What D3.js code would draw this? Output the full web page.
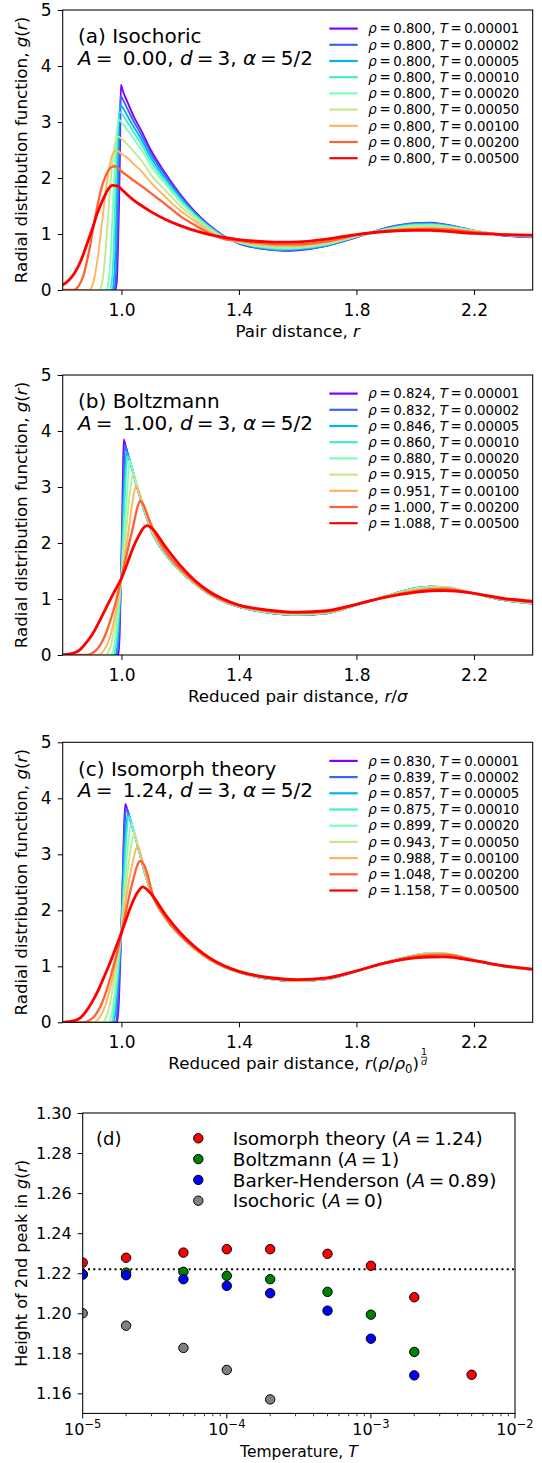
<!DOCTYPE html>
<html><head><meta charset="utf-8">
<script src="https://cdn.jsdelivr.net/npm/d3@7"></script>
<style>
body{margin:0;background:#fff}
svg{display:block}
text{font-family:"DejaVu Sans",sans-serif;fill:#000}
</style>
</head><body>
<svg id="c" width="542" height="1463"></svg>
<script>
// ---------------- DATA ----------------
const temps = ["0.00001","0.00002","0.00005","0.00010","0.00020","0.00050","0.00100","0.00200","0.00500"];
const colors = ["#8000ff","#4062fa","#00b4ec","#40ecd4","#80ffb4","#c0eb8d","#ffb462","#ff6232","#ff0000"];
const rhoA = ["0.800","0.800","0.800","0.800","0.800","0.800","0.800","0.800","0.800"];
const rhoB = ["0.824","0.832","0.846","0.860","0.880","0.915","0.951","1.000","1.088"];
const rhoC = ["0.830","0.839","0.857","0.875","0.899","0.943","0.988","1.048","1.158"];
const xTicks = [1.0,1.4,1.8,2.2];
const yTicks = [0,1,2,3,4,5];

// shared r grid of the tail (r >= 1.10)
const rTail = [1.10,1.15,1.20,1.25,1.30,1.35,1.40,1.45,1.50,1.55,1.60,1.70,1.80,1.90,2.00,2.05,2.10,2.20,2.30,2.40];

// (a) Isochoric: first peak region [r, g]
const headA = [
 [[0.80,0],[0.979,0],[0.984,0.15],[0.988,0.7],[0.992,1.6],[0.995,2.5],[0.998,3.66],[1.005,3.55],[1.02,3.36],[1.04,3.12],[1.07,2.82]],
 [[0.80,0],[0.975,0],[0.980,0.15],[0.985,0.75],[0.989,1.7],[0.993,2.7],[0.997,3.47],[1.005,3.40],[1.02,3.24],[1.04,3.03],[1.07,2.75]],
 [[0.80,0],[0.968,0],[0.974,0.15],[0.980,0.8],[0.985,1.8],[0.990,2.8],[0.995,3.31],[1.005,3.25],[1.02,3.11],[1.04,2.93],[1.07,2.67]],
 [[0.80,0],[0.960,0],[0.967,0.15],[0.974,0.8],[0.980,1.8],[0.987,2.8],[0.994,3.18],[1.005,3.12],[1.02,3.00],[1.04,2.83],[1.07,2.59]],
 [[0.80,0],[0.948,0],[0.956,0.15],[0.964,0.7],[0.972,1.6],[0.981,2.6],[0.991,3.04],[1.005,2.96],[1.02,2.86],[1.04,2.71],[1.07,2.49]],
 [[0.80,0],[0.925,0],[0.935,0.15],[0.946,0.7],[0.957,1.5],[0.969,2.3],[0.978,2.62],[0.988,2.74],[1.00,2.70],[1.02,2.60],[1.04,2.48],[1.07,2.30]],
 [[0.80,0],[0.890,0],[0.905,0.15],[0.920,0.6],[0.935,1.25],[0.950,1.9],[0.965,2.35],[0.978,2.48],[0.985,2.49],[1.00,2.43],[1.02,2.36],[1.04,2.26],[1.07,2.11]],
 [[0.80,0],[0.835,0],[0.855,0.08],[0.87,0.25],[0.89,0.70],[0.91,1.28],[0.93,1.78],[0.95,2.08],[0.965,2.19],[0.978,2.21],[0.99,2.17],[1.00,2.12],[1.02,2.04],[1.04,1.96],[1.07,1.85]],
 [[0.80,0.09],[0.82,0.17],[0.84,0.30],[0.86,0.50],[0.88,0.78],[0.90,1.08],[0.92,1.40],[0.94,1.65],[0.955,1.80],[0.968,1.87],[0.985,1.86],[1.00,1.80],[1.02,1.70],[1.04,1.61],[1.07,1.50]]
];
// (a) Isochoric: g values on rTail
const tailA = [
 [2.50,2.08,1.71,1.40,1.15,0.96,0.83,0.76,0.72,0.70,0.71,0.79,0.94,1.11,1.195,1.20,1.17,1.06,0.97,0.94],
 [2.44,2.04,1.68,1.38,1.14,0.955,0.835,0.765,0.727,0.71,0.72,0.795,0.945,1.10,1.19,1.194,1.165,1.06,0.975,0.945],
 [2.37,1.99,1.65,1.36,1.13,0.95,0.84,0.775,0.737,0.72,0.73,0.80,0.95,1.095,1.178,1.183,1.157,1.06,0.98,0.95],
 [2.30,1.94,1.62,1.34,1.12,0.945,0.845,0.785,0.748,0.732,0.74,0.81,0.955,1.09,1.167,1.172,1.15,1.06,0.98,0.955],
 [2.22,1.89,1.58,1.32,1.10,0.94,0.85,0.795,0.762,0.748,0.755,0.82,0.96,1.08,1.153,1.157,1.14,1.06,0.985,0.96],
 [2.06,1.78,1.50,1.28,1.07,0.93,0.86,0.81,0.785,0.772,0.775,0.835,0.965,1.07,1.128,1.13,1.12,1.05,0.99,0.965],
 [1.92,1.66,1.42,1.23,1.04,0.92,0.87,0.825,0.80,0.79,0.79,0.85,0.97,1.06,1.105,1.11,1.10,1.045,0.99,0.97],
 [1.73,1.53,1.32,1.16,1.01,0.91,0.88,0.845,0.825,0.815,0.815,0.87,0.98,1.055,1.085,1.09,1.08,1.035,0.99,0.975],
 [1.40,1.26,1.15,1.06,0.99,0.94,0.90,0.875,0.86,0.855,0.86,0.91,0.99,1.045,1.065,1.065,1.05,1.01,0.99,0.98]
];

// (b) Boltzmann
const headB = [
 [[0.80,0],[0.990,0],[0.994,0.4],[0.998,1.3],[1.002,2.3],[1.005,3.2],[1.008,3.85],[1.012,3.78],[1.02,3.62],[1.03,3.44],[1.04,3.26],[1.05,3.06],[1.06,2.88],[1.07,2.70],[1.08,2.54]],
 [[0.80,0],[0.984,0],[0.990,0.25],[0.995,0.85],[0.999,1.35],[1.004,2.3],[1.008,3.2],[1.012,3.75],[1.02,3.62],[1.03,3.44],[1.04,3.26],[1.05,3.06],[1.06,2.88],[1.07,2.70],[1.08,2.54]],
 [[0.80,0],[0.978,0],[0.986,0.2],[0.993,0.8],[0.998,1.3],[1.004,2.2],[1.010,3.1],[1.017,3.62],[1.025,3.52],[1.03,3.44],[1.04,3.26],[1.05,3.06],[1.06,2.88],[1.07,2.70],[1.08,2.54]],
 [[0.80,0],[0.972,0],[0.982,0.2],[0.990,0.65],[0.996,1.15],[1.00,1.45],[1.008,2.40],[1.015,3.20],[1.021,3.55],[1.03,3.44],[1.04,3.26],[1.05,3.06],[1.06,2.88],[1.07,2.70],[1.08,2.54]],
 [[0.80,0],[0.962,0],[0.975,0.15],[0.985,0.55],[0.995,1.10],[1.00,1.40],[1.01,2.20],[1.02,2.95],[1.028,3.47],[1.035,3.36],[1.04,3.27],[1.05,3.07],[1.06,2.89],[1.07,2.71],[1.08,2.55]],
 [[0.80,0],[0.945,0],[0.96,0.10],[0.975,0.45],[0.99,0.95],[1.00,1.35],[1.015,2.15],[1.03,2.95],[1.04,3.25],[1.05,3.08],[1.06,2.90],[1.07,2.72],[1.08,2.56]],
 [[0.80,0],[0.92,0],[0.94,0.08],[0.96,0.30],[0.98,0.75],[1.00,1.36],[1.02,2.05],[1.035,2.65],[1.045,2.95],[1.05,3.02],[1.06,2.92],[1.07,2.75],[1.08,2.58]],
 [[0.80,0],[0.88,0],[0.90,0.03],[0.92,0.12],[0.94,0.30],[0.96,0.58],[0.98,0.93],[1.00,1.38],[1.02,1.85],[1.04,2.30],[1.055,2.65],[1.064,2.75],[1.075,2.68],[1.09,2.48]],
 [[0.80,0.003],[0.82,0.015],[0.84,0.04],[0.86,0.10],[0.88,0.22],[0.90,0.36],[0.92,0.55],[0.94,0.76],[0.96,0.97],[0.98,1.17],[1.00,1.37],[1.02,1.64],[1.04,1.92],[1.06,2.14],[1.075,2.27],[1.087,2.31]]
];
const tailB = [
 [2.24,1.80,1.50,1.27,1.08,0.95,0.86,0.80,0.755,0.725,0.715,0.745,0.89,1.05,1.19,1.219,1.21,1.10,0.98,0.92],
 [2.24,1.80,1.50,1.27,1.08,0.95,0.86,0.80,0.756,0.726,0.716,0.746,0.89,1.05,1.192,1.220,1.212,1.10,0.98,0.92],
 [2.24,1.80,1.50,1.27,1.08,0.95,0.86,0.80,0.757,0.727,0.717,0.747,0.89,1.05,1.193,1.221,1.213,1.10,0.98,0.92],
 [2.24,1.80,1.50,1.27,1.08,0.95,0.862,0.802,0.759,0.729,0.72,0.75,0.89,1.05,1.19,1.219,1.213,1.10,0.982,0.922],
 [2.25,1.81,1.50,1.27,1.08,0.952,0.864,0.805,0.762,0.733,0.724,0.753,0.892,1.05,1.185,1.217,1.213,1.10,0.984,0.924],
 [2.26,1.82,1.51,1.275,1.085,0.955,0.868,0.81,0.768,0.74,0.731,0.758,0.894,1.048,1.175,1.208,1.211,1.10,0.988,0.928],
 [2.28,1.83,1.52,1.28,1.09,0.96,0.873,0.816,0.775,0.748,0.74,0.765,0.897,1.045,1.16,1.195,1.199,1.10,0.992,0.935],
 [2.34,1.85,1.54,1.30,1.10,0.97,0.88,0.826,0.786,0.76,0.752,0.776,0.90,1.04,1.14,1.172,1.181,1.10,1.00,0.945],
 [2.28,1.93,1.60,1.33,1.13,0.99,0.89,0.838,0.80,0.775,0.765,0.79,0.905,1.035,1.12,1.145,1.15,1.10,1.01,0.96]
];

// (c) Isomorph theory
const headC = [
 [[0.80,0],[0.985,0],[0.991,0.35],[0.996,1.1],[1.000,1.7],[1.005,2.7],[1.009,3.5],[1.013,3.90],[1.02,3.80],[1.03,3.62],[1.04,3.44],[1.05,3.26],[1.06,3.06],[1.07,2.86],[1.08,2.66]],
 [[0.80,0],[0.98,0],[0.987,0.3],[0.993,0.95],[0.998,1.45],[1.003,2.3],[1.009,3.3],[1.016,3.82],[1.02,3.79],[1.03,3.62],[1.04,3.44],[1.05,3.26],[1.06,3.06],[1.07,2.86],[1.08,2.66]],
 [[0.80,0],[0.972,0],[0.981,0.25],[0.989,0.8],[0.995,1.25],[1.00,1.62],[1.007,2.55],[1.014,3.35],[1.022,3.72],[1.03,3.62],[1.04,3.44],[1.05,3.26],[1.06,3.06],[1.07,2.86],[1.08,2.66]],
 [[0.80,0],[0.965,0],[0.975,0.2],[0.984,0.65],[0.992,1.15],[1.00,1.65],[1.008,2.45],[1.016,3.25],[1.026,3.68],[1.03,3.62],[1.04,3.44],[1.05,3.26],[1.06,3.06],[1.07,2.86],[1.08,2.66]],
 [[0.80,0],[0.955,0],[0.967,0.15],[0.978,0.55],[0.988,1.05],[0.996,1.45],[1.00,1.65],[1.01,2.35],[1.02,3.05],[1.034,3.55],[1.04,3.45],[1.05,3.27],[1.06,3.07],[1.07,2.87],[1.08,2.67]],
 [[0.80,0],[0.935,0],[0.95,0.12],[0.965,0.45],[0.98,0.95],[0.993,1.40],[1.00,1.65],[1.015,2.40],[1.03,3.05],[1.044,3.40],[1.05,3.28],[1.06,3.08],[1.07,2.88],[1.08,2.68]],
 [[0.80,0],[0.905,0],[0.925,0.08],[0.945,0.3],[0.965,0.68],[0.985,1.18],[1.00,1.62],[1.02,2.35],[1.04,2.90],[1.05,3.10],[1.056,3.15],[1.065,3.02],[1.08,2.70]],
 [[0.80,0],[0.87,0],[0.89,0.03],[0.91,0.12],[0.93,0.30],[0.95,0.58],[0.97,0.95],[0.99,1.35],[1.00,1.60],[1.02,2.10],[1.04,2.55],[1.055,2.82],[1.064,2.88],[1.075,2.83],[1.09,2.62]],
 [[0.80,0],[0.82,0.01],[0.84,0.03],[0.86,0.08],[0.88,0.20],[0.90,0.36],[0.92,0.56],[0.94,0.80],[0.96,1.05],[0.98,1.32],[1.00,1.60],[1.02,1.90],[1.04,2.17],[1.06,2.36],[1.072,2.42],[1.085,2.38]]
];
const tailC = [
 [2.33,1.86,1.55,1.31,1.12,0.985,0.89,0.82,0.775,0.745,0.735,0.77,0.91,1.07,1.195,1.225,1.22,1.11,1.00,0.94],
 [2.33,1.86,1.55,1.31,1.12,0.985,0.89,0.82,0.776,0.746,0.736,0.771,0.91,1.07,1.197,1.228,1.222,1.11,1.00,0.94],
 [2.33,1.86,1.55,1.31,1.12,0.985,0.89,0.82,0.777,0.747,0.737,0.772,0.91,1.07,1.198,1.230,1.224,1.11,1.00,0.94],
 [2.33,1.86,1.55,1.31,1.12,0.985,0.89,0.821,0.778,0.748,0.738,0.773,0.91,1.07,1.199,1.232,1.226,1.11,1.00,0.94],
 [2.33,1.86,1.55,1.31,1.12,0.986,0.891,0.822,0.779,0.75,0.74,0.775,0.911,1.07,1.198,1.232,1.227,1.11,1.00,0.94],
 [2.33,1.86,1.55,1.31,1.12,0.987,0.893,0.825,0.782,0.753,0.743,0.778,0.912,1.07,1.195,1.229,1.228,1.115,1.00,0.94],
 [2.34,1.86,1.55,1.31,1.12,0.99,0.896,0.829,0.786,0.757,0.747,0.782,0.914,1.068,1.19,1.222,1.224,1.115,1.005,0.942],
 [2.40,1.87,1.56,1.32,1.13,0.995,0.90,0.834,0.792,0.764,0.754,0.788,0.916,1.065,1.178,1.205,1.208,1.11,1.008,0.945],
 [2.30,1.92,1.60,1.35,1.15,1.01,0.91,0.845,0.80,0.773,0.763,0.795,0.92,1.06,1.15,1.166,1.169,1.10,1.01,0.95]
];

// (d) height of 2nd peak
const dTemps = [1e-5,2e-5,5e-5,1e-4,2e-4,5e-4,1e-3,2e-3,5e-3];
const peakIsomorph = [1.2253,1.2277,1.2303,1.2320,1.2320,1.2297,1.2237,1.2080,1.1693];
const peakBoltzmann = [1.2195,1.2203,1.2207,1.2187,1.2170,1.2107,1.1993,1.1807];
const peakBarker = [1.2193,1.2190,1.2170,1.2137,1.2100,1.2013,1.1873,1.1690];
const peakIsochoric = [1.2000,1.1938,1.1827,1.1717,1.1570];
const refLine = 1.222;
const dYTicks = [1.16,1.18,1.20,1.22,1.24,1.26,1.28,1.30];
const dXTicks = [1e-5,1e-4,1e-3,1e-2];
const dLegend = [
 {name:"Isomorph theory", A:"1.24", color:"#ff0000"},
 {name:"Boltzmann", A:"1", color:"#008000"},
 {name:"Barker-Henderson", A:"0.89", color:"#0000ff"},
 {name:"Isochoric", A:"0", color:"#808080"}
];

// ---------------- DRAW ----------------
const svg = d3.select("#c");
const X0 = 62.7, X1 = 532.7;
const TICKF = 17, LABF = 16.7, TITF = 20, LEGF = 13.3;
const EQ = "\u2009=\u2009";   // math-style spacing around "="

function addMath(sel, parts){
  parts.forEach(p=>{
    const t = sel.append("tspan").text(p[0]);
    if(p[1]) t.attr("font-style","italic");
    if(p[2]) Object.entries(p[2]).forEach(([k,v])=>t.attr(k,v));
  });
  return sel;
}

const panels = [
 {key:"a", top:10, bottom:290, head:headA, tail:tailA, rho:rhoA, name:"(a) Isochoric", Aval:" 0.00"},
 {key:"b", top:375, bottom:655, head:headB, tail:tailB, rho:rhoB, name:"(b) Boltzmann", Aval:" 1.00"},
 {key:"c", top:742.3, bottom:1022.3, head:headC, tail:tailC, rho:rhoC, name:"(c) Isomorph theory", Aval:" 1.24"}
];

panels.forEach(p=>{
  const g = svg.append("g");
  const x = d3.scaleLinear().domain([0.8,2.4]).range([X0,X1]);
  const y = d3.scaleLinear().domain([0,5]).range([p.bottom,p.top]);
  const cid = "clip"+p.key;
  svg.append("clipPath").attr("id",cid).append("rect")
    .attr("x",X0).attr("y",p.top).attr("width",X1-X0).attr("height",p.bottom-p.top);
  const line = d3.line().x(d=>x(d[0])).y(d=>y(d[1])).curve(d3.curveMonotoneX);
  const lg = g.append("g").attr("clip-path",`url(#${cid})`);
  p.head.forEach((h,i)=>{
    const pts = h.concat(rTail.map((r,j)=>[r,p.tail[i][j]]));
    lg.append("path").attr("d",line(pts)).attr("fill","none")
      .attr("stroke",colors[i]).attr("stroke-width", i===8?2.8:(i===7?2.3:1.9))
      .attr("stroke-linejoin","round");
  });
  const xa = g.append("g").attr("transform",`translate(0,${p.bottom})`)
    .call(d3.axisBottom(x).tickValues(xTicks).tickFormat(d3.format(".1f")).tickSize(5).tickPadding(8.6));
  const ya = g.append("g").attr("transform",`translate(${X0},0)`)
    .call(d3.axisLeft(y).tickValues(yTicks).tickFormat(d3.format("d")).tickSize(5).tickPadding(6));
  [xa,ya].forEach(a=>{
    a.select(".domain").remove();
    a.selectAll("text").attr("font-size",TICKF).attr("font-family","DejaVu Sans").attr("fill","#000");
    a.selectAll("line").attr("stroke","#000").attr("stroke-width",1);
  });
  g.append("rect").attr("x",X0).attr("y",p.top).attr("width",X1-X0).attr("height",p.bottom-p.top)
    .attr("fill","none").attr("stroke","#000").attr("stroke-width",1.05);
  const yl = g.append("text").attr("transform",`translate(27,${(p.top+p.bottom)/2}) rotate(-90)`)
    .attr("text-anchor","middle").attr("font-size",LABF);
  addMath(yl,[["Radial distribution function, "],["g",true],["("],["r",true],[")"]]);
  const xl = g.append("text").attr("x",(X0+X1)/2).attr("y",p.bottom+46.5)
    .attr("text-anchor","middle").attr("font-size",LABF);
  if(p.key==="a") addMath(xl,[["Pair distance, "],["r",true]]);
  if(p.key==="b") addMath(xl,[["Reduced pair distance, "],["r",true],["/"],["σ",true]]);
  if(p.key==="c"){
    xl.attr("text-anchor","start");
    addMath(xl,[["Reduced pair distance, "],["r",true],["("],["ρ",true],["/"],["ρ",true],["0",false,{"font-size":LABF*0.7,"dy":4}],[")",false,{"dy":-4}]]);
    const w = xl.node().getComputedTextLength();
    const fw = 8;
    const sx = (X0+X1)/2 - (w+fw)/2;
    xl.attr("x",sx);
    const fx = sx + w + 1 + fw/2;
    const by = p.bottom+46.5;
    g.append("text").attr("x",fx).attr("y",by-13.5).attr("text-anchor","middle").attr("font-size",9.5).text("1");
    g.append("line").attr("x1",fx-3.2).attr("x2",fx+3.2).attr("y1",by-11.6).attr("y2",by-11.6).attr("stroke","#000").attr("stroke-width",0.8);
    g.append("text").attr("x",fx).attr("y",by-3.8).attr("text-anchor","middle").attr("font-size",9.5).attr("font-style","italic").text("d");
  }
  g.append("text").attr("x",78).attr("y",p.top+33.3).attr("font-size",TITF).text(p.name);
  const t2 = g.append("text").attr("x",78).attr("y",p.top+55).attr("font-size",TITF).style("white-space","pre");
  addMath(t2,[["A",true],[EQ+p.Aval+", "],["d",true],[EQ+"3, "],["α",true],[EQ+"5/2"]]);
  p.rho.forEach((rv,i)=>{
    const yy = p.top + 18.6 + 16.2*i;
    g.append("line").attr("x1",329.3).attr("x2",357.7).attr("y1",yy).attr("y2",yy)
      .attr("stroke",colors[i]).attr("stroke-width",2.2);
    const lt = g.append("text").attr("x",368.3).attr("y",yy).attr("dy","0.36em").attr("font-size",LEGF);
    addMath(lt,[["ρ",true],[EQ+rv+", "],["T",true],[EQ+temps[i]]]);
  });
});

// ---------- panel (d) ----------
(function(){
  const L = 82.7, R = 515, T = 1113, B = 1413.4;
  const g = svg.append("g");
  const x = d3.scaleLog().domain([1e-5,1e-2]).range([L,R]);
  const y = d3.scaleLinear().domain([1.15,1.30]).range([B,T]);
  const cid = "clipd";
  svg.append("clipPath").attr("id",cid).append("rect").attr("x",L).attr("y",T).attr("width",R-L).attr("height",B-T);
  const pg = g.append("g").attr("clip-path",`url(#${cid})`);
  pg.append("line").attr("x1",x(1e-5)).attr("x2",x(1e-2)).attr("y1",y(refLine)).attr("y2",y(refLine))
    .attr("stroke","#000").attr("stroke-width",2).attr("stroke-dasharray","2,3.3");
  const series = [[peakIsomorph,"#ff0000"],[peakBoltzmann,"#008000"],[peakBarker,"#0000ff"],[peakIsochoric,"#808080"]];
  series.forEach(([vals,col])=>{
    pg.selectAll(null).data(vals).enter().append("circle")
      .attr("cx",(d,i)=>x(dTemps[i])).attr("cy",d=>y(d)).attr("r",4.7)
      .attr("fill",col).attr("stroke","#000").attr("stroke-width",1);
  });
  const ya = g.append("g").attr("transform",`translate(${L},0)`)
    .call(d3.axisLeft(y).tickValues(dYTicks).tickFormat(d3.format(".2f")).tickSize(5).tickPadding(6));
  ya.select(".domain").remove();
  ya.selectAll("text").attr("font-size",16).attr("font-family","DejaVu Sans");
  ya.selectAll("line").attr("stroke","#000");
  const minor = [];
  [1e-5,1e-4,1e-3].forEach(dd=>{ for(let k=2;k<=9;k++) minor.push(dd*k); });
  g.selectAll(null).data(minor).enter().append("line")
    .attr("x1",d=>x(d)).attr("x2",d=>x(d)).attr("y1",B).attr("y2",B+2.8).attr("stroke","#000").attr("stroke-width",0.8);
  g.selectAll(null).data(dXTicks).enter().append("line")
    .attr("x1",d=>x(d)).attr("x2",d=>x(d)).attr("y1",B).attr("y2",B+5).attr("stroke","#000").attr("stroke-width",1);
  dXTicks.forEach(d=>{
    const e = Math.round(Math.log10(d));
    const t = g.append("text").attr("x",x(d)).attr("y",B+21.5).attr("text-anchor","middle").attr("font-size",16);
    t.append("tspan").text("10");
    t.append("tspan").attr("dy",-7).attr("font-size",11.5).text("−"+Math.abs(e));
  });
  g.append("rect").attr("x",L).attr("y",T).attr("width",R-L).attr("height",B-T)
    .attr("fill","none").attr("stroke","#000").attr("stroke-width",1.05);
  const xl = g.append("text").attr("x",(L+R)/2).attr("y",1457).attr("text-anchor","middle").attr("font-size",15.5);
  addMath(xl,[["Temperature, "],["T",true]]);
  const yl = g.append("text").attr("transform",`translate(26.5,${(T+B)/2}) rotate(-90)`).attr("text-anchor","middle").attr("font-size",16);
  addMath(yl,[["Height of 2nd peak in "],["g",true],["("],["r",true],[")"]]);
  g.append("text").attr("x",96).attr("y",1138.3).attr("dy","0.36em").attr("font-size",18).text("(d)");
  dLegend.forEach((d,i)=>{
    const yy = 1138.3 + 20.8*i;
    g.append("circle").attr("cx",198.3).attr("cy",yy).attr("r",4.7).attr("fill",d.color).attr("stroke","#000").attr("stroke-width",1);
    const t = g.append("text").attr("x",232.7).attr("y",yy).attr("dy","0.36em").attr("font-size",18.5);
    addMath(t,[[d.name+" ("],["A",true],[EQ+d.A+")"]]);
  });
})();
</script>
</body></html>
